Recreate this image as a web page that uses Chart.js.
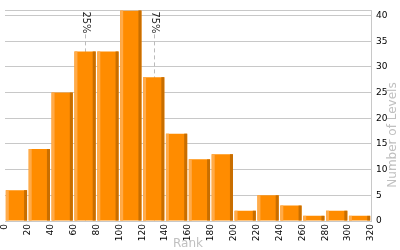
<!DOCTYPE html>
<html>
<head>
<meta charset="utf-8">
<style>
  html, body { margin: 0; padding: 0; background: #fff; }
  #wrap { width: 400px; height: 250px; }
</style>
<script src="https://cdn.jsdelivr.net/npm/chart.js@4.4.1/dist/chart.umd.min.js"></script>
</head>
<body>
<div id="wrap"><canvas id="rankChart"></canvas></div>
<script>
// histogram of level ranks
const binCenters = [10, 30, 50, 70, 90, 110, 130, 150, 170, 190, 210, 230, 250, 270, 290, 310];
const levelCounts = [6, 14, 25, 33, 33, 41, 28, 17, 12, 13, 2, 5, 3, 1, 2, 1];
const yTicks = [0, 5, 10, 15, 20, 25, 30, 35, 40, 41];
const percentileLabels = ['25%', '75%'];
const percentileRanks = [70, 130];

const gridColor = '#c8c8c8';
const tickFont = { family: 'DejaVu Sans', size: 9 };

// light / dark stripes on the bar edges
const barEdges = {
    id: 'barEdges',
    afterDatasetsDraw(chart) {
        const ctx = chart.ctx;
        chart.getDatasetMeta(0).data.forEach(function (bar) {
            const left = bar.x - bar.width / 2;
            const right = bar.x + bar.width / 2;
            const h = bar.base - bar.y;
            ctx.save();
            ctx.fillStyle = '#ffab4a';
            ctx.fillRect(left, bar.y, 3, h);
            ctx.fillStyle = '#c86e00';
            ctx.fillRect(right - 3, bar.y, 3, h);
            ctx.restore();
        });
    }
};

// dashed quartile markers
const quartiles = {
    id: 'quartiles',
    beforeDatasetsDraw(chart) {
        const ctx = chart.ctx;
        const x = chart.scales.x;
        const area = chart.chartArea;
        ctx.save();
        for (let i = 0; i < percentileRanks.length; i++) {
            const px = Math.round(x.getPixelForValue(percentileRanks[i])) + 0.5;
            ctx.strokeStyle = '#bbbbbb';
            ctx.lineWidth = 1;
            ctx.setLineDash([4, 3]);
            ctx.beginPath();
            ctx.moveTo(px, area.top + 24);
            ctx.lineTo(px, area.bottom);
            ctx.stroke();
            ctx.save();
            ctx.translate(px, area.top + 1);
            ctx.rotate(Math.PI / 2);
            ctx.fillStyle = '#222';
            ctx.font = '10px "DejaVu Sans"';
            ctx.textAlign = 'left';
            ctx.textBaseline = 'middle';
            ctx.fillText(percentileLabels[i], 0, 0);
            ctx.restore();
        }
        ctx.restore();
    }
};

// axis titles
const axisTitles = {
    id: 'axisTitles',
    afterDraw(chart) {
        const ctx = chart.ctx;
        const area = chart.chartArea;
        ctx.save();
        ctx.fillStyle = '#c0c0c0';
        ctx.font = '12px "DejaVu Sans"';
        ctx.textAlign = 'center';
        ctx.textBaseline = 'middle';
        ctx.fillText('Rank', (area.left + area.right) / 2, 244);
        ctx.translate(393, 135);
        ctx.rotate(-Math.PI / 2);
        ctx.fillText('Number of Levels', 0, 0);
        ctx.restore();
    }
};

const data = {
    datasets: [{
        label: 'Number of Levels',
        data: binCenters.map(function (c, i) { return { x: c, y: levelCounts[i] }; }),
        backgroundColor: '#ff8c00',
        borderWidth: 0,
        barPercentage: 0.93,
        categoryPercentage: 1
    }]
};

const config = {
    type: 'bar',
    data,
    options: {
        responsive: true,
        maintainAspectRatio: false,
        animation: false,
        layout: { padding: { left: 5, top: 5, right: 0, bottom: 0 } },
        plugins: { legend: { display: false }, tooltip: { enabled: false } },
        scales: {
            x: {
                type: 'linear',
                offset: false,
                min: 0,
                max: 320,
                grid: {
                    drawTicks: false,
                    color: function (c) { return c.tick && c.tick.value === 0 ? gridColor : 'rgba(0,0,0,0)'; }
                },
                border: { display: false },
                ticks: {
                    stepSize: 20,
                    minRotation: 90,
                    maxRotation: 90,
                    padding: 3,
                    color: '#000',
                    font: tickFont
                },
                afterFit: function (s) { s.height = 29; }
            },
            y: {
                position: 'right',
                min: 0,
                max: 41,
                afterBuildTicks: function (s) { s.ticks = yTicks.map(function (v) { return { value: v }; }); },
                grid: { color: gridColor, drawTicks: false },
                border: { color: gridColor },
                ticks: {
                    padding: 5,
                    color: '#000',
                    font: tickFont,
                    callback: function (v) { return v % 5 === 0 ? v : ''; }
                },
                afterFit: function (s) { s.width = 29; }
            }
        }
    },
    plugins: [barEdges, quartiles, axisTitles]
};

const myChart = new Chart(document.getElementById('rankChart'), config);
</script>
</body>
</html>
